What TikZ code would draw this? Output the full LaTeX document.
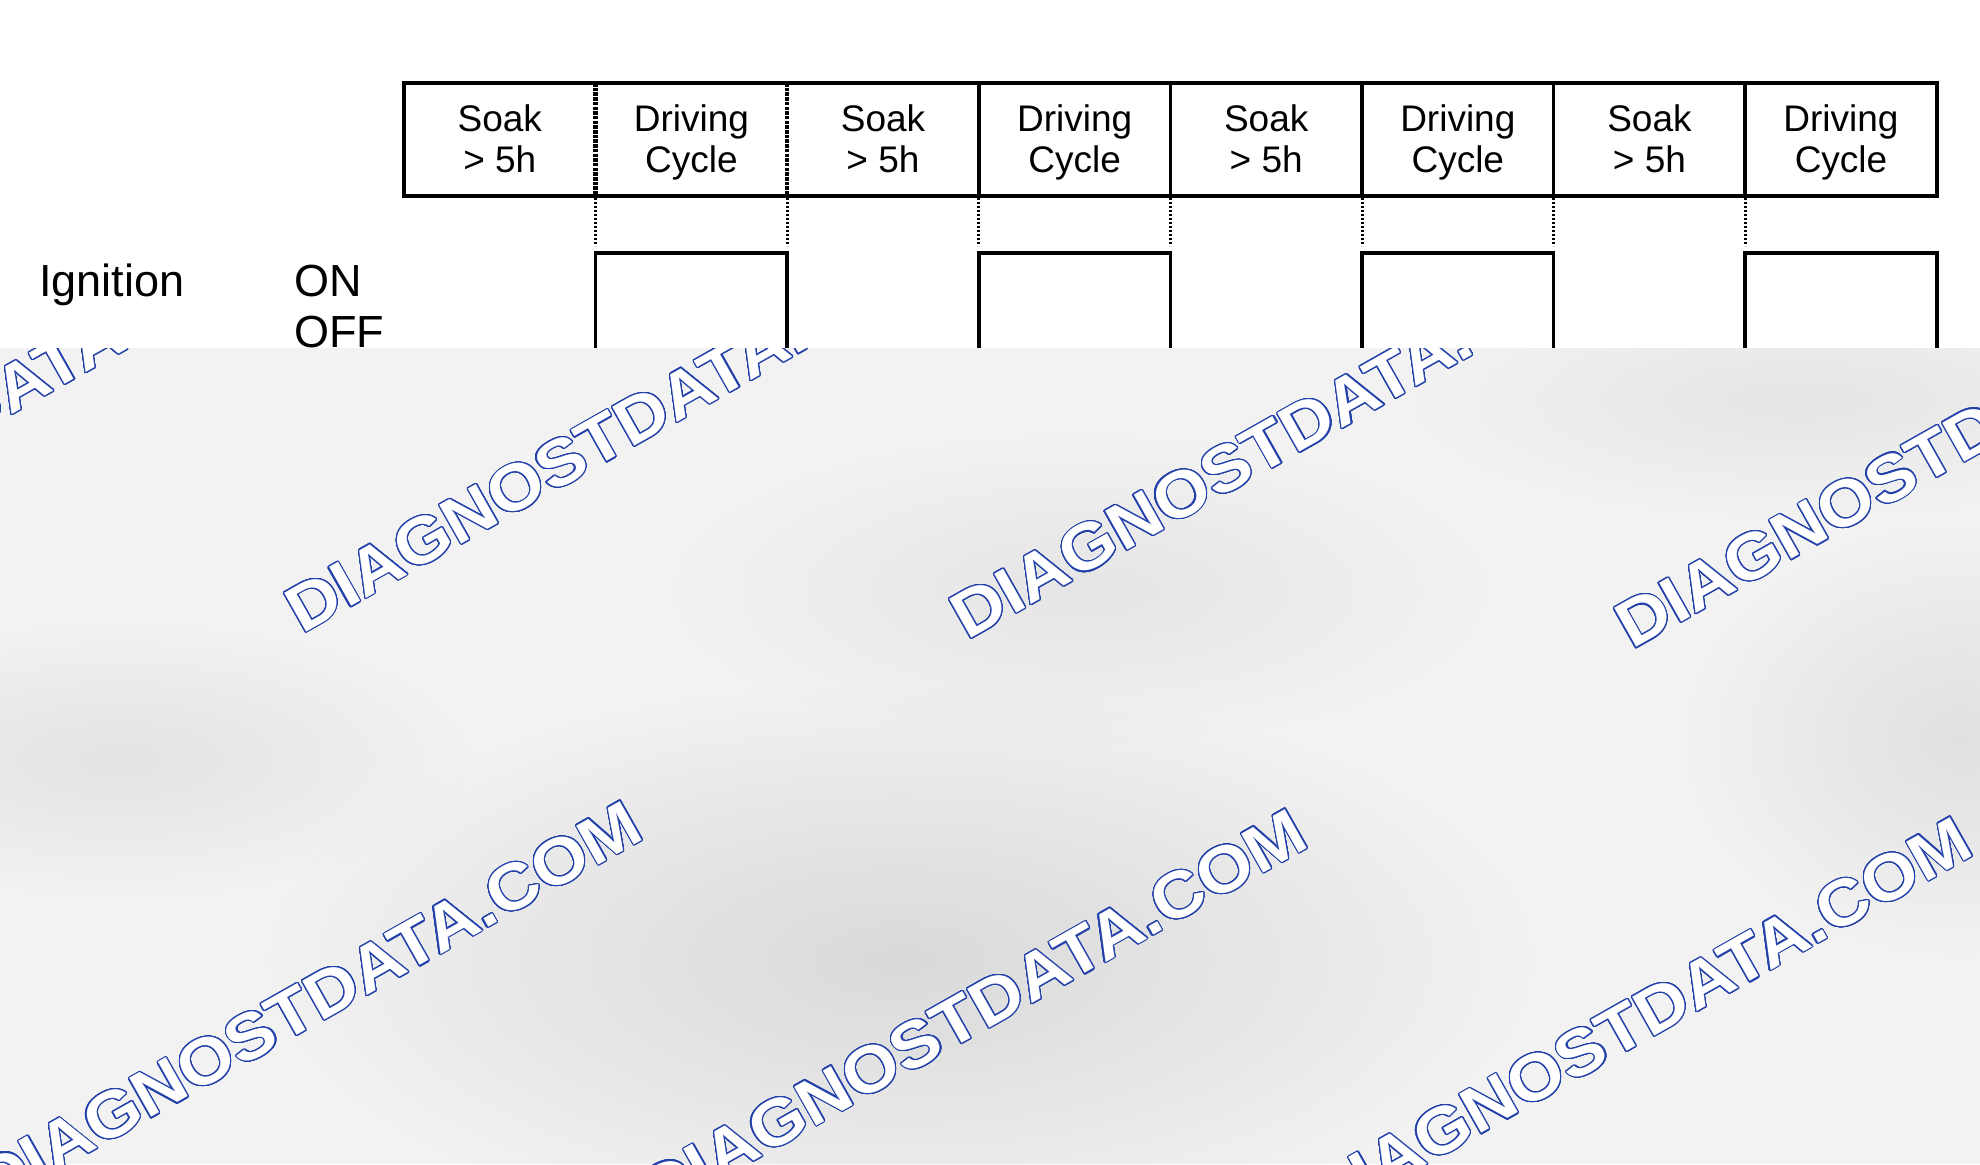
\documentclass[tikz,border=0pt]{standalone}
\usepackage{fontspec}
\setmainfont{Liberation Sans}
\usepackage{contour}
\contourlength{1.1pt}
\contournumber{32}
\usetikzlibrary{fadings}
\definecolor{wmblue}{RGB}{35,65,170}
\definecolor{ovbase}{RGB}{242,242,242}
\tikzfading[name=blobfade, inner color=transparent!0, outer color=transparent!100]
\newcommand{\wmtext}{\contour{wmblue}{DIAGNOSTDATA.COM}}
\tikzset{
  cell/.style={rectangle, minimum width=191.6pt, minimum height=113pt, inner sep=0pt, outer sep=0pt, draw=none},
  celltxt/.style={inner sep=0pt, outer sep=0pt, anchor=base, font=\fontsize{37}{41}\selectfont},
  siglabel/.style={inner sep=0pt, outer sep=0pt, anchor=base west, font=\fontsize{45}{50}\selectfont},
  boxline/.style={line width=3.5pt, black},
  boxdots/.style={line width=4.5pt, black, dash pattern=on 3.5pt off 1.2pt},
  dotline/.style={line width=3pt, black, dash pattern=on 2pt off 2pt},
  blob/.style={fill=black, path fading=blobfade},
  wm/.style={inner sep=0pt, outer sep=0pt, anchor=base west, rotate=29.5, xscale=1.1, text=white, font=\fontsize{65}{70}\selectfont\bfseries}
}
\begin{document}
\begin{tikzpicture}[x=1pt,y=-1pt]
\useasboundingbox (0,0) rectangle (1980,1164);
\fill[white] (0,0) rectangle (1980,1164);
% cells
\foreach \i in {1,...,8} {
  \node[cell] (c\i) at ({404+(\i-0.5)*191.6}, 139.5) {};
}
\foreach \i/\a/\b in {1/Soak/> 5h, 2/Driving/Cycle, 3/Soak/> 5h, 4/Driving/Cycle, 5/Soak/> 5h, 6/Driving/Cycle, 7/Soak/> 5h, 8/Driving/Cycle} {
  \node[celltxt, yshift=7.8pt] (t\i) at (c\i.center) {\a};
  \node[celltxt, yshift=-33.2pt] (u\i) at (c\i.center) {\b};
}
\draw[boxline] (c1.north west) rectangle (c8.south east);
\foreach \i in {1,2} \draw[boxdots] (c\i.north east) -- (c\i.south east);
\foreach \i in {3,...,7} \draw[boxline] (c\i.north east) -- (c\i.south east);
% ignition levels
\foreach \i in {0,...,8} {
  \coordinate (h\i) at ({404+\i*191.6}, 253);
  \coordinate (l\i) at ({404+\i*191.6}, 380);
}
\foreach \i in {1,...,7} \draw[dotline, shorten <=2pt, shorten >=7pt] (c\i.south east) -- (h\i);
\foreach \a/\b in {1/2, 3/4, 5/6, 7/8} \draw[boxline] (l\a) -- (h\a) -- (h\b) -- (l\b);
\node[siglabel] (ign) at (39,296) {Ignition};
\node[siglabel] (on) at (294,296) {ON};
\node[siglabel] (off) at (294,347) {OFF};
% watermark overlay
\begin{scope}
\clip (0,348) rectangle (1980,1164);
\fill[ovbase] (0,348) rectangle (1980,1164);
\fill[blob, opacity=0.10] (900,960) ellipse (640 and 280);
\fill[blob, opacity=0.07] (1960,740) ellipse (280 and 220);
\fill[blob, opacity=0.06] (120,760) ellipse (360 and 140);
\fill[blob, opacity=0.05] (1080,590) ellipse (420 and 160);
\fill[blob, opacity=0.05] (1800,400) ellipse (400 and 120);
\node[wm] (w0) at (-362.8,626.5) {\wmtext};
\node[wm] (w1) at (302.2,634.3) {\wmtext};
\node[wm] (w2) at (967.5,640.6) {\wmtext};
\node[wm] (w3) at (1632.2,649.9) {\wmtext};
\node[wm] (w4) at (-8,1208) {\wmtext};
\node[wm] (w5) at (657,1216) {\wmtext};
\node[wm] (w6) at (1322,1224) {\wmtext};
\end{scope}
\end{tikzpicture}
\end{document}
